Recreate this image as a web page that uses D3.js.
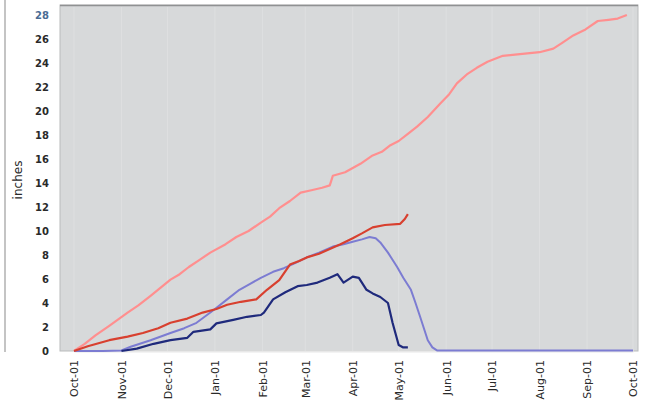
<!DOCTYPE html>
<html><head><meta charset="utf-8">
<script src="https://cdn.jsdelivr.net/npm/d3@7"></script>
<style>body{margin:0;background:#fff}svg{display:block}</style>
</head><body>
<svg id="c" width="645" height="416"></svg>
<script>
const yTicks = [0,2,4,6,8,10,12,14,16,18,20,22,24,26,28];
const monthTicks = ["2000-10-01","2000-11-01","2000-12-01","2001-01-01","2001-02-01","2001-03-01","2001-04-01","2001-05-01","2001-06-01","2001-07-01","2001-08-01","2001-09-01","2001-10-01"];
const yLabel = "inches";

const precipDates = ["2000-10-01","2000-10-08","2000-10-15","2000-10-24","2000-11-05","2000-11-12","2000-11-20","2000-12-03","2000-12-09","2000-12-15","2000-12-22","2000-12-29","2001-01-08","2001-01-15","2001-01-23","2001-01-31","2001-02-06","2001-02-12","2001-02-19","2001-02-26","2001-03-05","2001-03-12","2001-03-17","2001-03-19","2001-03-27","2001-04-06","2001-04-14","2001-04-20","2001-04-25","2001-05-01","2001-05-07","2001-05-13","2001-05-20","2001-05-28","2001-06-03","2001-06-08","2001-06-15","2001-06-21","2001-06-28","2001-07-08","2001-07-16","2001-07-24","2001-08-01","2001-08-10","2001-08-16","2001-08-23","2001-08-31","2001-09-08","2001-09-15","2001-09-21","2001-09-27"];
const precipVals  = [0,0.6,1.3,2.1,3.2,3.8,4.6,5.95,6.4,7.0,7.6,8.2,8.9,9.5,10.0,10.7,11.2,11.9,12.5,13.2,13.4,13.6,13.8,14.6,14.9,15.6,16.3,16.6,17.1,17.5,18.1,18.7,19.5,20.6,21.4,22.3,23.1,23.6,24.1,24.6,24.7,24.8,24.9,25.2,25.7,26.3,26.8,27.5,27.6,27.7,28.0];

const redDates = ["2000-10-01","2000-10-10","2000-10-24","2000-11-05","2000-11-15","2000-11-25","2000-12-03","2000-12-14","2000-12-24","2001-01-02","2001-01-09","2001-01-18","2001-01-28","2001-02-04","2001-02-12","2001-02-19","2001-02-25","2001-03-02","2001-03-10","2001-03-17","2001-03-24","2001-04-01","2001-04-07","2001-04-14","2001-04-22","2001-05-02","2001-05-05","2001-05-07"];
const redVals  = [0,0.4,0.9,1.2,1.5,1.9,2.35,2.7,3.2,3.5,3.85,4.1,4.3,5.1,5.9,7.2,7.5,7.8,8.1,8.5,8.9,9.4,9.8,10.3,10.5,10.6,11.0,11.4];

const snowLightDates = ["2000-10-01","2000-10-20","2000-11-01","2000-11-07","2000-11-20","2000-12-03","2000-12-12","2000-12-20","2000-12-31","2001-01-09","2001-01-17","2001-01-24","2001-01-31","2001-02-08","2001-02-15","2001-02-22","2001-03-02","2001-03-10","2001-03-19","2001-03-26","2001-04-01","2001-04-07","2001-04-12","2001-04-16","2001-04-19","2001-04-24","2001-04-30","2001-05-04","2001-05-09","2001-05-12","2001-05-15","2001-05-20","2001-05-23","2001-05-26","2001-07-01","2001-10-01"];
const snowLightVals  = [0,0,0.05,0.35,0.9,1.5,1.9,2.35,3.4,4.3,5.1,5.6,6.1,6.6,6.9,7.3,7.8,8.2,8.7,8.9,9.1,9.3,9.5,9.4,9.05,8.2,7.0,6.1,5.1,4.0,2.85,0.9,0.3,0.05,0.05,0.05];

const snowDarkDates = ["2000-11-01","2000-11-11","2000-11-22","2000-12-03","2000-12-14","2000-12-18","2000-12-29","2001-01-02","2001-01-13","2001-01-22","2001-01-31","2001-02-02","2001-02-08","2001-02-16","2001-02-24","2001-03-02","2001-03-09","2001-03-17","2001-03-22","2001-03-26","2001-04-01","2001-04-05","2001-04-10","2001-04-14","2001-04-19","2001-04-24","2001-04-27","2001-05-01","2001-05-04","2001-05-07"];
const snowDarkVals  = [0,0.2,0.6,0.9,1.1,1.6,1.8,2.3,2.6,2.85,3.0,3.2,4.3,4.9,5.4,5.5,5.7,6.1,6.4,5.7,6.2,6.1,5.1,4.8,4.5,4.0,2.35,0.5,0.3,0.3];

const svg = d3.select("#c");
const parse = d3.timeParse("%Y-%m-%d");
const plot = {left:60, right:638, top:5, bottom:351};

const x = d3.scaleTime().domain([parse(monthTicks[0]), parse(monthTicks[12])]).range([74, 633]);
const y = d3.scaleLinear().domain([0, 28]).range([351, 15]);

// faint scan strip on the left
svg.append("line").attr("x1",5).attr("x2",5).attr("y1",0).attr("y2",352).attr("stroke","#c4c4c4").attr("stroke-width",2);

svg.append("rect").attr("x",plot.left).attr("y",plot.top).attr("width",plot.right-plot.left).attr("height",plot.bottom-plot.top)
  .attr("fill","#d7d9da").attr("stroke","#b9bbbc").attr("stroke-width",1);
svg.append("line").attr("x1",plot.left).attr("x2",plot.right).attr("y1",plot.top+0.5).attr("y2",plot.top+0.5).attr("stroke","#8f9192").attr("stroke-width",1.5);

svg.append("g").selectAll("line").data(monthTicks).join("line")
  .attr("x1",d=>x(parse(d))).attr("x2",d=>x(parse(d))).attr("y1",plot.top+2).attr("y2",plot.bottom)
  .attr("stroke","#e4e5e6").attr("stroke-width",1).attr("opacity",0.6);

const yAxis = d3.axisLeft(y).tickValues(yTicks).tickSize(0).tickPadding(0);
const gy = svg.append("g").attr("transform","translate(49,0)").call(yAxis);
gy.select(".domain").remove();
gy.selectAll("text").attr("font-family","DejaVu Sans").attr("font-size",10).attr("font-weight","bold").attr("fill","#2a2a2a").attr("dy","0.35em");
gy.selectAll(".tick").filter(d=>d===28).select("text").attr("fill","#4a6c94");

const xAxis = d3.axisBottom(x).tickValues(monthTicks.map(parse)).tickFormat(d3.timeFormat("%b-01")).tickSize(0);
const gx = svg.append("g").attr("transform","translate(0,351)").call(xAxis);
gx.select(".domain").attr("stroke","#e8e8e8").attr("stroke-width",2);
gx.selectAll("text").attr("font-family","DejaVu Sans").attr("font-size",11).attr("fill","#2a2a2a")
  .attr("text-anchor","end").attr("transform","rotate(-90)").attr("x",-9).attr("y",0).attr("dy","0.35em");

svg.append("text").attr("transform","translate(22,180) rotate(-90)").attr("text-anchor","middle")
  .attr("font-family","DejaVu Sans").attr("font-size",12).attr("fill","#2a2a2a").text(yLabel);

const line = d3.line().x(d=>x(d[0])).y(d=>y(d[1]));
function series(dates, vals, color, w){
  svg.append("path").datum(dates.map((d,i)=>[parse(d), vals[i]]))
    .attr("d", line).attr("fill","none").attr("stroke",color).attr("stroke-width",w)
    .attr("stroke-linejoin","round");
}
series(precipDates, precipVals, "#ff8f8f", 2.2);
series(snowLightDates, snowLightVals, "#7c7cd2", 2);
series(redDates, redVals, "#d8402f", 2.2);
series(snowDarkDates, snowDarkVals, "#1f2a7c", 2.2);
</script>
</body></html>
